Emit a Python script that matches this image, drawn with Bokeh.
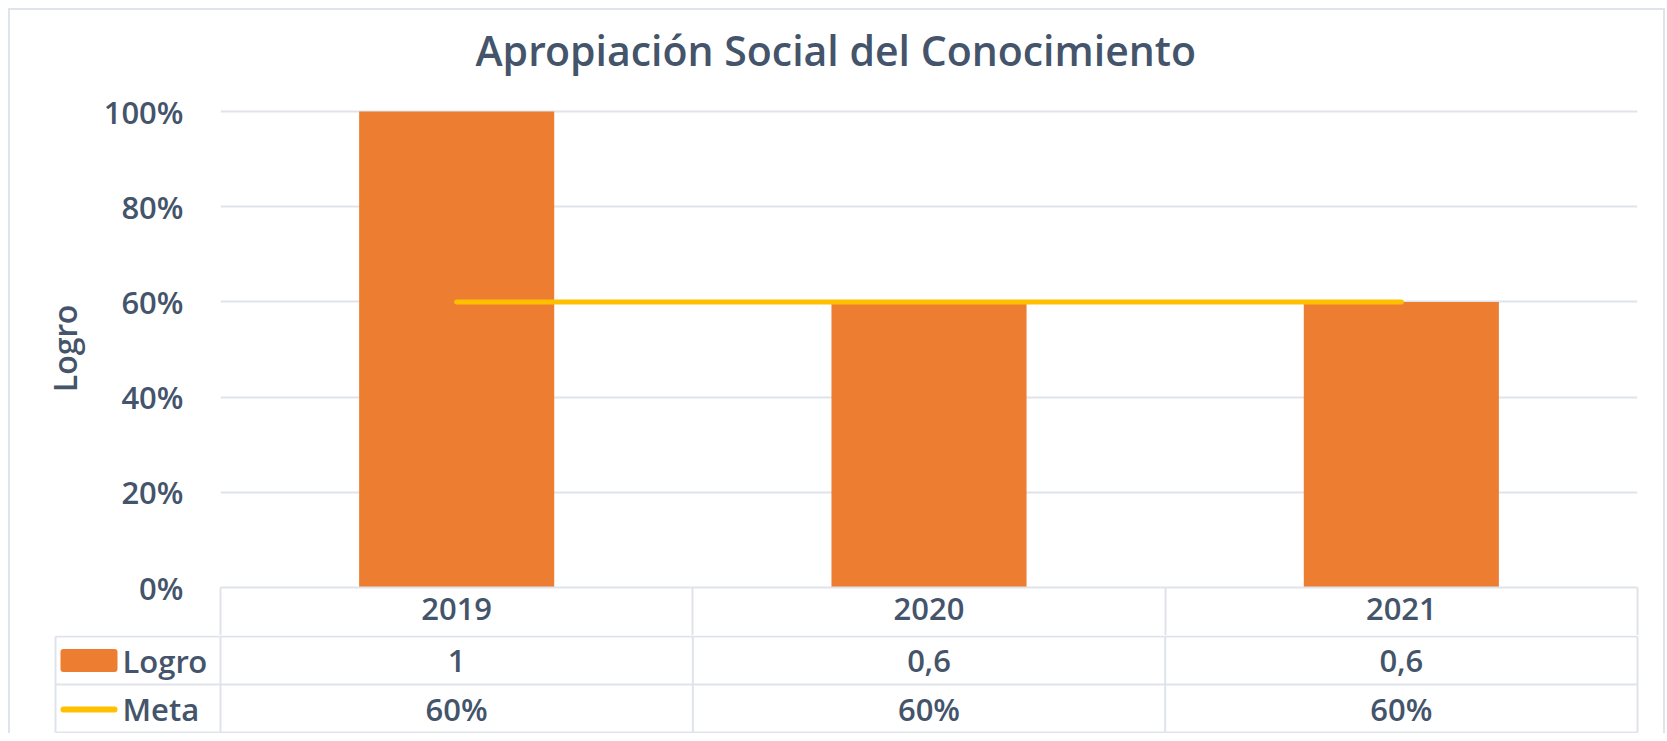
from bokeh.plotting import figure
from bokeh.layouts import column
from bokeh.models import Range1d, FixedTicker, NumeralTickFormatter, Title
from bokeh.core.properties import value
from bokeh.embed import file_html
from bokeh.resources import INLINE

# ---- data ----
categories = ["2019", "2020", "2021"]
logro = [1.0, 0.6, 0.6]
meta = [0.6, 0.6, 0.6]
y_ticks = [0, 0.2, 0.4, 0.6, 0.8, 1.0]
title_text = "Apropiación Social del Conocimiento"
series_names = ["Logro", "Meta"]

# ---- style ----
FONT = "Open Sans SemiBold, Open Sans"
TXT = "#44546A"
GRID = "#DFE3EA"
ORANGE = "#ED7D31"
YELLOW = "#FFC000"
FS = "31px"

# ---- layout constants (pixels) ----
W = 1653
PX_X = 1417 / 3.0           # px per category
PX_Y = 476.0                # px per unit of y
HEAD_H = 49                 # header row height (px)
ROW_H = 48.0                # table row height (px)
LEG_W = 165.0               # legend column width (px)

n = len(categories)
centers = [i + 0.5 for i in range(n)]
bounds_x = list(range(n + 1))

# ================= chart =================
pA = figure(width=W, height=625, output_backend="svg", toolbar_location=None,
            frame_align=False,
            x_range=Range1d(0, n),
            y_range=Range1d(0, 1.0 + 2 / PX_Y),
            min_border_left=210, min_border_right=26, min_border_top=99,
            min_border_bottom=48)
pA.outline_line_color = None
pA.background_fill_color = "white"
pA.border_fill_color = "white"
pA.xgrid.visible = False
pA.ygrid.grid_line_color = GRID
pA.ygrid.grid_line_width = 2
pA.ygrid.ticker = FixedTicker(ticks=y_ticks)

# y axis
ay = pA.yaxis[0]
ay.ticker = FixedTicker(ticks=y_ticks)
ay.formatter = NumeralTickFormatter(format="0%")
ay.axis_line_color = None
ay.major_tick_line_color = None
ay.minor_tick_line_color = None
ay.major_label_standoff = 31
ay.major_label_text_font = FONT
ay.major_label_text_font_style = "bold"
ay.major_label_text_font_size = FS
ay.major_label_text_color = TXT
ay.axis_label = series_names[0]
ay.axis_label_text_font = FONT
ay.axis_label_text_font_style = "bold"
ay.axis_label_text_font_size = "32px"
ay.axis_label_text_color = TXT
ay.axis_label_standoff = 15

# x axis = header row of the data table
axx = pA.xaxis[0]
axx.ticker = FixedTicker(ticks=centers, minor_ticks=bounds_x)
axx.major_label_overrides = {c: cat for c, cat in zip(centers, categories)}
axx.axis_line_color = GRID
axx.axis_line_width = 2
axx.major_tick_line_color = None
axx.major_tick_out = 0
axx.major_tick_in = 0
axx.minor_tick_line_color = GRID
axx.minor_tick_line_width = 2
axx.minor_tick_out = HEAD_H
axx.minor_tick_in = 0
axx.major_label_standoff = 10 - HEAD_H
axx.major_label_text_line_height = 1.0
axx.major_label_text_font = FONT
axx.major_label_text_font_style = "bold"
axx.major_label_text_font_size = FS
axx.major_label_text_color = TXT

# title (+ spacer between title and frame)
spacer = Title(text=" ", text_font_size="1px", standoff=26)
pA.add_layout(spacer, "above")
pA.title.text = title_text
pA.title.text_font = FONT
pA.title.text_font_style = "normal"
pA.title.text_font_size = "41px"
pA.title.text_color = TXT
pA.title.align = "left"
pA.title.offset = 255
pA.title.standoff = 6

pA.vbar(x=centers, top=logro, bottom=0, width=0.413, fill_color=ORANGE,
        line_color=None)
pA.line(x=centers, y=meta, line_color=YELLOW, line_width=5, line_cap="round")

# ================= table =================
left = -LEG_W / PX_X
frame_left = left - 2 / PX_X
pB = figure(width=W, height=98, output_backend="svg", toolbar_location=None,
            x_axis_location=None, y_axis_location=None, frame_align=False,
            x_range=Range1d(frame_left, n + 2 / PX_X),
            y_range=Range1d(-2 - 1 / ROW_H, 1 / ROW_H),
            min_border_left=43, min_border_right=24, min_border_top=0,
            min_border_bottom=0)
pB.outline_line_color = None
pB.grid.visible = False
pB.border_fill_color = "white"

rows = len(series_names)
# horizontal lines
pB.segment(x0=[left] * (rows + 1), y0=[-r for r in range(rows + 1)],
           x1=[n] * (rows + 1), y1=[-r for r in range(rows + 1)],
           line_color=GRID, line_width=2)
# vertical lines
vx = [left] + bounds_x
pB.segment(x0=vx, y0=[0] * len(vx), x1=vx, y1=[-rows] * len(vx),
           line_color=GRID, line_width=2)

# legend swatches
sw_x0 = left + 5 / PX_X
sw_x1 = left + 62 / PX_X
pB.quad(left=[sw_x0], right=[sw_x1], top=[-0.5 + 11.5 / ROW_H],
        bottom=[-0.5 - 11.5 / ROW_H], fill_color=ORANGE, line_color=None,
        border_radius=3)
pB.line(x=[sw_x0 + 3 / PX_X, sw_x1 - 3 / PX_X], y=[-1.5 - 1 / ROW_H] * 2,
        line_color=YELLOW, line_width=6, line_cap="round")

# row names
pB.text(x=[left + 67 / PX_X] * rows, y=[-0.5 - r for r in range(rows)],
        text=series_names, text_align="left", text_baseline="middle",
        text_font=value(FONT), text_font_style="bold", text_font_size=FS,
        text_color=TXT)

def fmt_num(v):
    return ("%g" % v).replace(".", ",")

logro_txt = [fmt_num(v) for v in logro]
meta_txt = ["%d%%" % round(v * 100) for v in meta]
pB.text(x=centers, y=[-0.5] * n, text=logro_txt, text_align="center",
        text_baseline="middle", text_font=value(FONT), text_font_style="bold",
        text_font_size=FS, text_color=TXT)
pB.text(x=centers, y=[-1.5] * n, text=meta_txt, text_align="center",
        text_baseline="middle", text_font=value(FONT), text_font_style="bold",
        text_font_size=FS, text_color=TXT)

layout = column(pA, pB, spacing=0,
                styles={"margin-left": "8px", "margin-top": "8px",
                        "border-left": "2px solid " + GRID,
                        "border-top": "2px solid " + GRID,
                        "border-right": "2px solid " + GRID})

open("out.html", "w").write(file_html(layout, INLINE))
